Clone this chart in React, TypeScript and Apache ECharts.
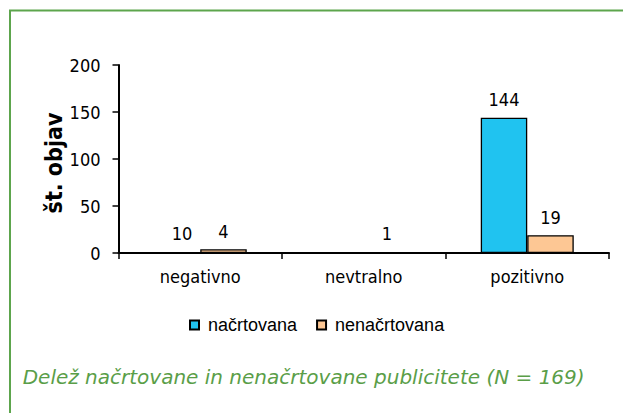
import React, { useEffect, useRef } from "react";
import * as echarts from "echarts";

const categories = ["negativno", "nevtralno", "pozitivno"];
const nacrtovana = [1, 0, 144];
const nacrtovanaLabels = ["10", "", "144"];
const nenacrtovana = [4, 1, 19];
const nenacrtovanaLabels = ["4", "1", "19"];
const seriesNames = ["načrtovana", "nenačrtovana"];
const yAxisTitle = "št. objav";
const caption = "Delež načrtovane in nenačrtovane publicitete (N = 169)";

const AXIS_FONT = "DejaVu Sans Condensed";

export default function App() {
  const ref = useRef<HTMLDivElement>(null);
  useEffect(() => {
    if (!ref.current) return;
    const chart = echarts.init(ref.current, undefined, { renderer: "svg" });
    const labelStyle = {
      show: true,
      position: "top" as const,
      distance: 9,
      fontFamily: AXIS_FONT,
      fontSize: 18,
      color: "#000",
    };
    chart.setOption({
      animation: false,
      backgroundColor: "#fff",
      grid: { left: 118.5, right: 14, top: 65, bottom: 160 },
      legend: {
        left: 189,
        top: 316,
        padding: 0,
        icon: "rect",
        itemWidth: 9,
        itemHeight: 9,
        itemGap: 19,
        itemStyle: { borderColor: "#000", borderWidth: 2 },
        textStyle: {
          fontFamily: "Liberation Sans",
          fontSize: 18,
          color: "#000",
          padding: [0, 0, 0, 4],
        },
        data: seriesNames,
      },
      xAxis: {
        type: "category",
        data: categories,
        z: 5,
        axisLine: { lineStyle: { color: "#000", width: 2 } },
        axisTick: { show: true, length: 6, lineStyle: { color: "#000", width: 1.5 } },
        axisLabel: { fontFamily: AXIS_FONT, fontSize: 18, color: "#000", margin: 14 },
      },
      yAxis: {
        type: "value",
        min: 0,
        max: 200,
        interval: 50,
        splitLine: { show: false },
        axisLine: { show: true, lineStyle: { color: "#000", width: 2 } },
        axisTick: { show: true, length: 6, lineStyle: { color: "#000", width: 1.5 } },
        axisLabel: { fontFamily: AXIS_FONT, fontSize: 18, color: "#000", margin: 18 },
      },
      series: [
        {
          name: seriesNames[0],
          type: "bar",
          barWidth: 46.5,
          barGap: "0%",
          itemStyle: { color: "#20C3F0", borderColor: "#000", borderWidth: 1.3 },
          label: {
            ...labelStyle,
            formatter: (p: any) => nacrtovanaLabels[p.dataIndex],
          },
          data: nacrtovana.map((v, i) =>
            i === 0 ? { value: v, label: { offset: [5, 0] } } : v
          ),
        },
        {
          name: seriesNames[1],
          type: "bar",
          barWidth: 46.5,
          barGap: "0%",
          itemStyle: { color: "#FDC794", borderColor: "#000", borderWidth: 1.3 },
          label: {
            ...labelStyle,
            formatter: (p: any) => nenacrtovanaLabels[p.dataIndex],
          },
          data: nenacrtovana,
        },
      ],
      graphic: [
        {
          type: "rect",
          shape: { x: 10, y: 10.5, width: 660, height: 460 },
          style: { fill: "none", stroke: "#5DA54D", lineWidth: 2 },
          silent: true,
        },
        {
          type: "text",
          x: 54,
          y: 163,
          rotation: Math.PI / 2,
          style: {
            text: yAxisTitle,
            fontFamily: AXIS_FONT,
            fontWeight: "bold",
            fontSize: 23,
            fill: "#000",
            align: "center",
            verticalAlign: "middle",
          },
        },
        {
          type: "text",
          x: 22.7,
          y: 377,
          style: {
            text: caption,
            fontFamily: "DejaVu Sans",
            fontStyle: "italic",
            fontSize: 20,
            fill: "#5A9E48",
            align: "left",
            verticalAlign: "middle",
          },
        },
      ],
    });
    return () => chart.dispose();
  }, []);
  return (
    <div
      ref={ref}
      style={{ position: "absolute", left: 0, top: 0, width: 623, height: 413 }}
    />
  );
}
